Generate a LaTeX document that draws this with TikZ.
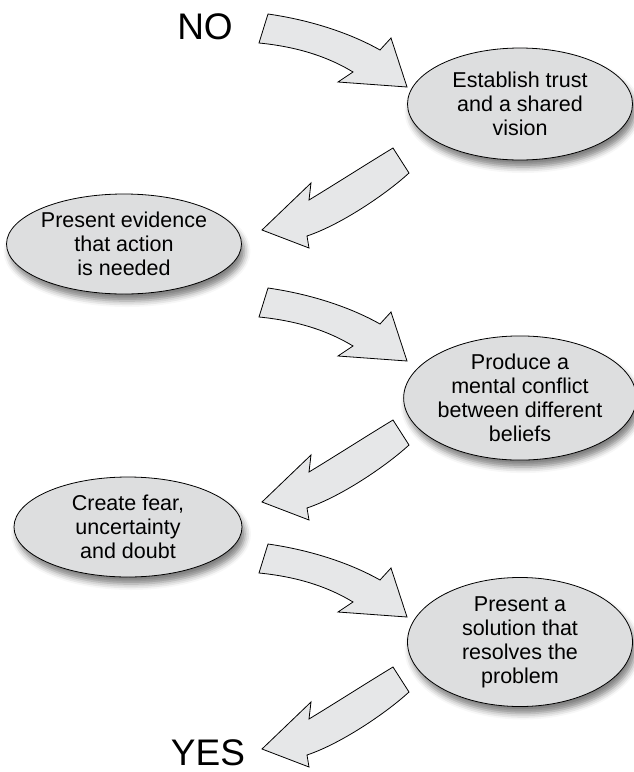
\documentclass[tikz,border=0pt]{standalone}
\usepackage{fontspec}
\setmainfont{Liberation Sans}
\usetikzlibrary{shapes.geometric,shadows.blur}
\definecolor{ellgray}{RGB}{221,222,223}
\definecolor{arrgray}{RGB}{230,231,232}
\tikzset{
  stage/.style={ellipse, draw=black, line width=0.8pt, fill=ellgray,
    inner sep=0pt, align=center,
    font=\fontsize{21.5}{24}\selectfont,
    blur shadow={shadow xshift=3pt, shadow yshift=-7pt, shadow blur radius=6pt, shadow opacity=50}},
  rstage/.style={stage, minimum width=225pt, minimum height=112pt},
  lstage/.style={stage, minimum width=228pt, minimum height=100pt},
  endlabel/.style={font=\fontsize{37}{40}\selectfont, inner sep=0pt},
  blockarrow/.style={fill=arrgray, draw=black, line width=0.8pt, line join=miter},
  pics/arrowright/.style={code={
    \draw[blockarrow] (-139,-73) .. controls (-97,-67) and (-57,-54) .. (-27,-37)
      -- (-16,-49) -- (0,0) -- (-69,-5) -- (-54,-15)
      .. controls (-77,-29) and (-107,-40) .. (-148,-44) -- cycle;
  }},
  pics/arrowleft/.style={code={
    \draw[blockarrow] (47,-30) .. controls (75,-47) and (103,-65) .. (131,-82)
      -- (147,-57) .. controls (123,-35) and (78,-5) .. (45,6)
      -- (47,18) -- (0,0) -- (49,-47) -- cycle;
  }}
}
\begin{document}
\begin{tikzpicture}[x=1pt,y=-1pt]
\useasboundingbox (0,0) rectangle (633,772);

\node[endlabel] (no) at (205,27) {NO};
\node[endlabel] (yes) at (208,753) {YES};

\node[rstage] (s1) at (520,104) {Establish trust\\and a shared\\vision};
\node[lstage] (s2) at (124,244) {Present evidence\\that action\\is needed};
\node[rstage] (s3) at (520,398) {Produce a\\mental conflict\\between different\\beliefs};
\node[lstage] (s4) at (128,527) {Create fear,\\uncertainty\\and doubt};
\node[rstage] (s5) at (520,642) {Present a\\solution that\\resolves the\\problem};

\coordinate (a1) at (407,87);
\coordinate (a2) at (262,230);
\coordinate (a3) at (407,361);
\coordinate (a4) at (262,502);
\coordinate (a5) at (407,617);
\coordinate (a6) at (262,749);

\pic at (a1) {arrowright};
\pic at (a2) {arrowleft};
\pic at (a3) {arrowright};
\pic at (a4) {arrowleft};
\pic at (a5) {arrowright};
\pic at (a6) {arrowleft};
\end{tikzpicture}
\end{document}
